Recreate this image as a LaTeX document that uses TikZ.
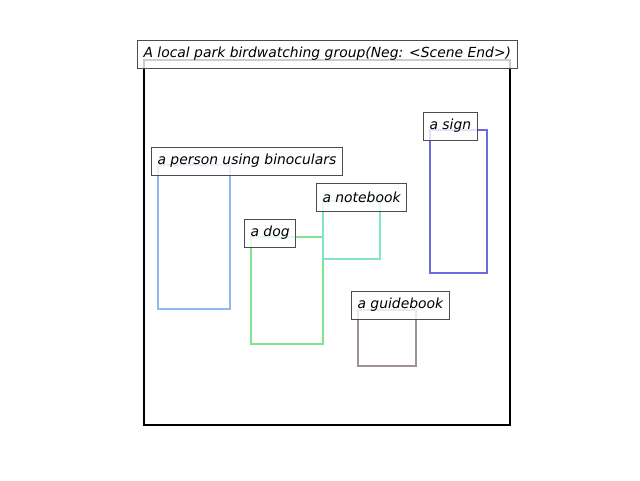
\documentclass[tikz,border=0pt]{standalone}
\usepackage{fontspec}
\setmainfont{DejaVu Sans}
\definecolor{personcol}{HTML}{8DBBEE}
\definecolor{dogcol}{HTML}{7FE38F}
\definecolor{notecol}{HTML}{82E4C8}
\definecolor{signcol}{HTML}{6B6BE0}
\definecolor{guidecol}{HTML}{A0909A}
\tikzset{
  tag/.style={draw=black!70, fill=white, fill opacity=0.8, text opacity=1,
    line width=1pt, inner xsep=6pt, minimum height=28pt, anchor=west,
    font=\fontsize{13.9}{16}\selectfont\itshape},
  box/.style={line width=2pt}
}
\begin{document}
\begin{tikzpicture}[x=1pt,y=-1pt]
\useasboundingbox (0,0) rectangle (640,480);
% scene frame
\draw[line width=2pt] (144,60) rectangle (510,425);

% object boxes
\draw[box, personcol] (158,165) rectangle (230,309);
\draw[box, dogcol] (251,237) rectangle (323,344);
\draw[box, notecol] (323,201) rectangle (380,259);
\draw[box, signcol] (430,130) rectangle (487,273);
\draw[box, guidecol] (358,310) rectangle (416,366);

% labels
\node[tag] (scene) at (137,54) {A local park birdwatching group(Neg: <Scene End>)};
\node[tag] (person) at (151,161) {a person using binoculars};
\node[tag] (dog) at (244,233) {a dog};
\node[tag] (notebook) at (316,197) {a notebook};
\node[tag] (sign) at (423,126) {a sign};
\node[tag] (guidebook) at (351,305) {a guidebook};
\end{tikzpicture}
\end{document}
